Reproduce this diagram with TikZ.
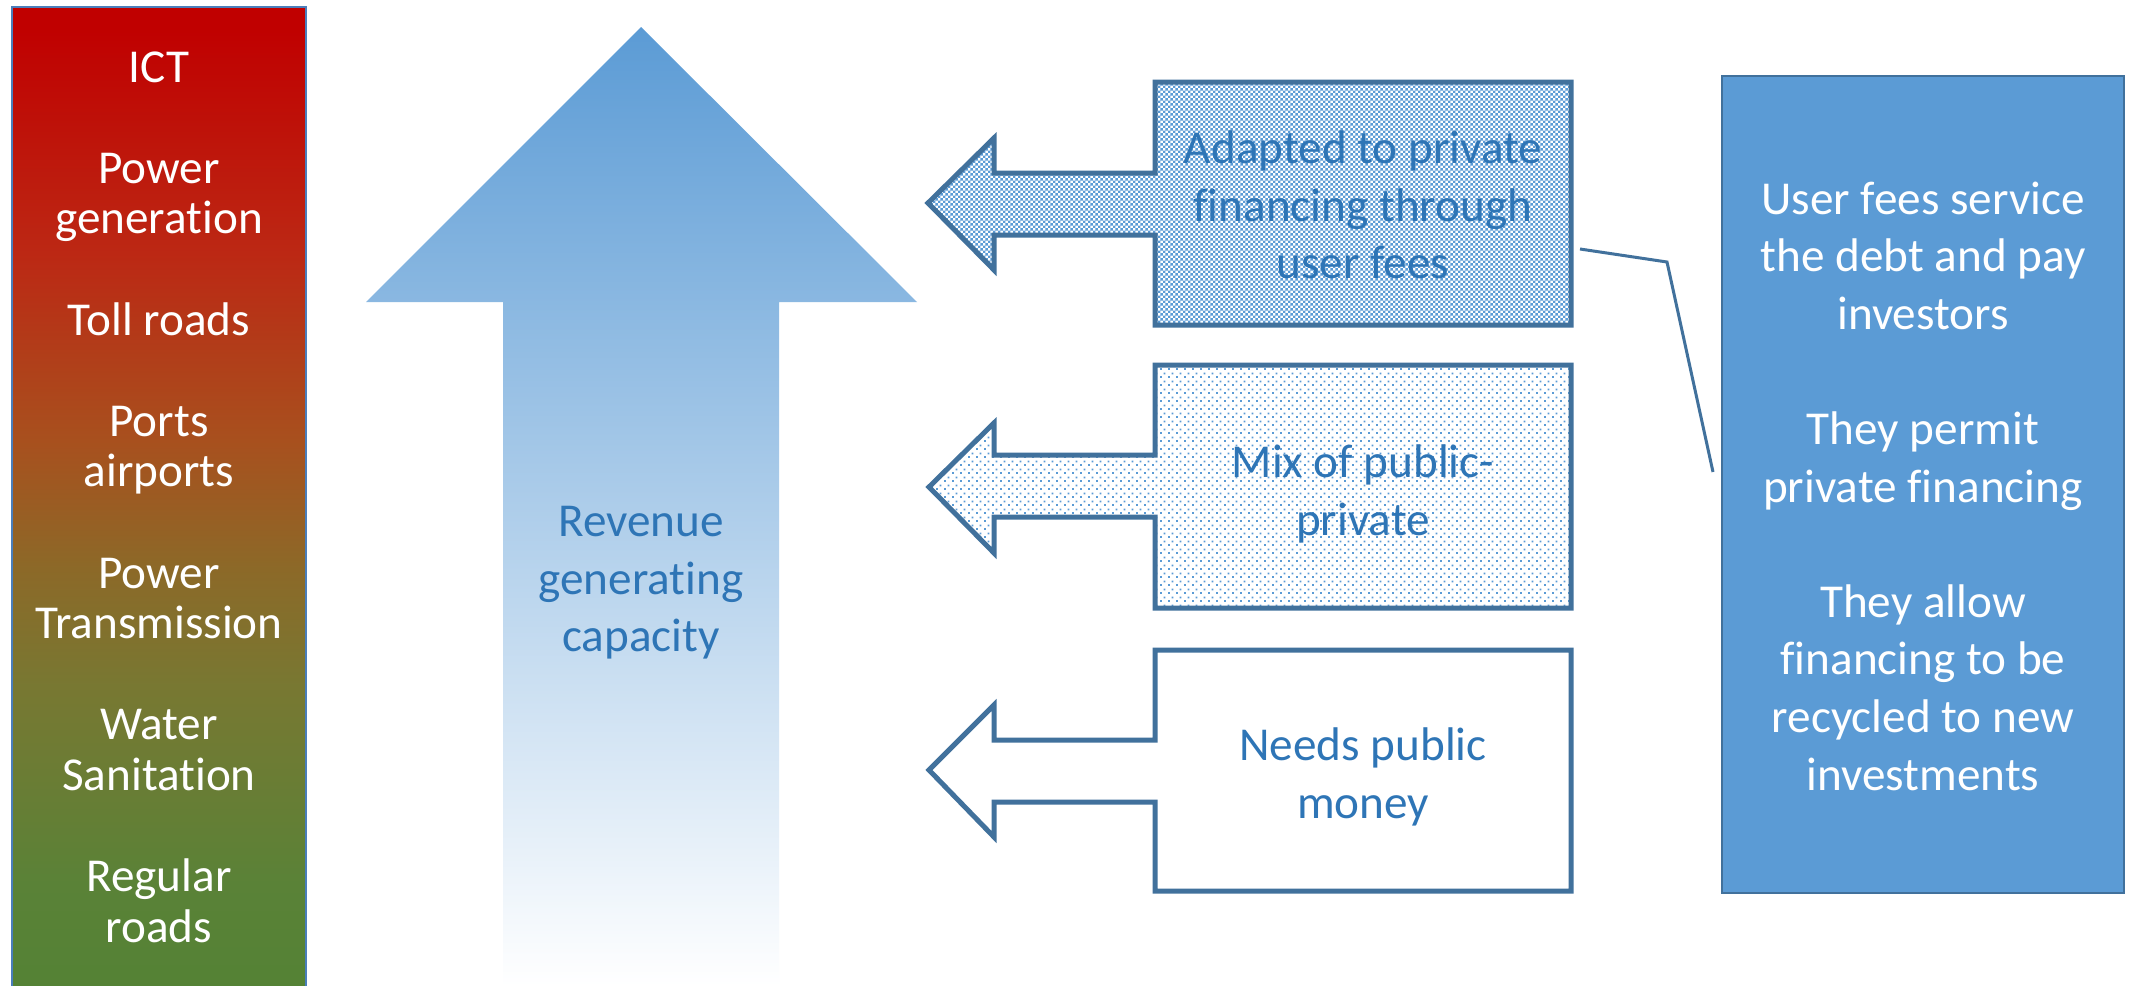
\documentclass[tikz,border=0pt]{standalone}
\usepackage{fontspec}
\setmainfont{Carlito}[Ligatures={NoCommon}]
\usetikzlibrary{patterns}
\definecolor{blueFill}{HTML}{5B9BD5}
\definecolor{blueLine}{HTML}{41719C}
\definecolor{blueText}{HTML}{2E75B6}
\definecolor{barLine}{HTML}{4A7EBB}
\pgfdeclareverticalshading{barshade}{100bp}{%
  color(0bp)=(rgb,255:red,84;green,130;blue,53);
  color(25bp)=(rgb,255:red,84;green,130;blue,53);
  color(30.5bp)=(rgb,255:red,90;green,130;blue,55);
  color(40.5bp)=(rgb,255:red,120;green,120;blue,50);
  color(46.5bp)=(rgb,255:red,140;green,105;blue,40);
  color(53bp)=(rgb,255:red,168;green,80;blue,30);
  color(62.5bp)=(rgb,255:red,188;green,40;blue,20);
  color(74bp)=(rgb,255:red,192;green,0;blue,0);
  color(100bp)=(rgb,255:red,192;green,0;blue,0)}
\pgfdeclarepatternformonly{finechecker}{\pgfpointorigin}{\pgfpoint{2.7pt}{2.7pt}}{\pgfpoint{2.7pt}{2.7pt}}{%
  \pgfpathrectangle{\pgfpointorigin}{\pgfpoint{1.35pt}{1.35pt}}%
  \pgfpathrectangle{\pgfpoint{1.35pt}{1.35pt}}{\pgfpoint{1.35pt}{1.35pt}}%
  \pgfusepath{fill}}
\pgfdeclarepatternformonly{sparsedots}{\pgfpointorigin}{\pgfpoint{4pt}{4pt}}{\pgfpoint{4pt}{4pt}}{%
  \pgfpathrectangle{\pgfpointorigin}{\pgfpoint{1pt}{1pt}}%
  \pgfpathrectangle{\pgfpoint{2pt}{2pt}}{\pgfpoint{1pt}{1pt}}%
  \pgfusepath{fill}}
\tikzset{
  calloutline/.style={draw=blueLine, line width=2.5pt, line join=miter},
  bluelabel/.style={text=blueText, align=center, font=\fontsize{23.6pt}{28.8pt}\selectfont},
  whitelabel/.style={text=white, align=center, font=\fontsize{23.6pt}{28.8pt}\selectfont},
  connector/.style={draw=blueLine, line width=1.5pt},
}
\begin{document}
\begin{tikzpicture}[x=0.5pt,y=-0.5pt]
\useasboundingbox (0,0) rectangle (2133,986);
\fill[white] (0,0) rectangle (2133,986);

% left gradient bar
\node[draw=barLine, line width=1pt, shading=barshade,
      minimum width=147pt, minimum height=492.5pt, inner sep=0pt] (bar) at (159,499.5) {};
\node[text=white, align=center, font=\fontsize{23.6pt}{25.3pt}\selectfont] (bartext) at (159,497)
  {ICT\\[25.3pt]Power\\generation\\[25.3pt]Toll roads\\[25.3pt]Ports\\airports\\[25.3pt]Power\\Transmission\\[25.3pt]Water\\Sanitation\\[25.3pt]Regular\\roads};

% big up arrow
\shade[top color=blueFill, bottom color=white]
  (641,27) -- (917,302) -- (779,302) -- (779,986) -- (503,986) -- (503,302) -- (366,302) -- cycle;
\node[bluelabel] (revenue) at (641,583) {Revenue\\generating\\capacity};

% callout 1
\path[pattern=finechecker, pattern color=blueFill]
  (1571,82) -- (1571,325) -- (1155,325) -- (1155,235) -- (994,235) -- (994,270) -- (928,203) -- (994,138) -- (994,173) -- (1155,173) -- (1155,82) -- cycle;
\path[calloutline]
  (1571,82) -- (1571,325) -- (1155,325) -- (1155,235) -- (994,235) -- (994,270) -- (928,203) -- (994,138) -- (994,173) -- (1155,173) -- (1155,82) -- cycle;
\node[bluelabel] (c1text) at (1363,205) {Adapted to private\\financing through\\user fees};

% callout 2
\path[pattern=sparsedots, pattern color=blueFill]
  (1571,365) -- (1571,608) -- (1155,608) -- (1155,517) -- (994,517) -- (994,553) -- (929,487) -- (994,423) -- (994,455) -- (1155,455) -- (1155,365) -- cycle;
\path[calloutline]
  (1571,365) -- (1571,608) -- (1155,608) -- (1155,517) -- (994,517) -- (994,553) -- (929,487) -- (994,423) -- (994,455) -- (1155,455) -- (1155,365) -- cycle;
\node[bluelabel] (c2text) at (1363,494) {Mix of public-\\private};

% callout 3
\path[calloutline, fill=white]
  (1571,650) -- (1571,891) -- (1155,891) -- (1155,802) -- (994,802) -- (994,837) -- (929,770) -- (994,705) -- (994,740) -- (1155,740) -- (1155,650) -- cycle;
\node[bluelabel] (c3text) at (1363,777) {Needs public\\money};

% right box
\node[draw=blueLine, line width=1pt, fill=blueFill, minimum width=201pt, minimum height=408.5pt, inner sep=0pt] (rbox) at (1923,484.5) {};
\node[whitelabel] (rtext) at (1923,486)
  {User fees service\\the debt and pay\\investors\\[28.8pt]They permit\\private financing\\[28.8pt]They allow\\financing to be\\recycled to new\\investments};

% callout connector line
\coordinate (lnA) at (1580,249);
\coordinate (lnB) at (1667,262);
\coordinate (lnC) at (1713,472);
\draw[connector] (lnA) -- (lnB) -- (lnC);
\end{tikzpicture}
\end{document}
